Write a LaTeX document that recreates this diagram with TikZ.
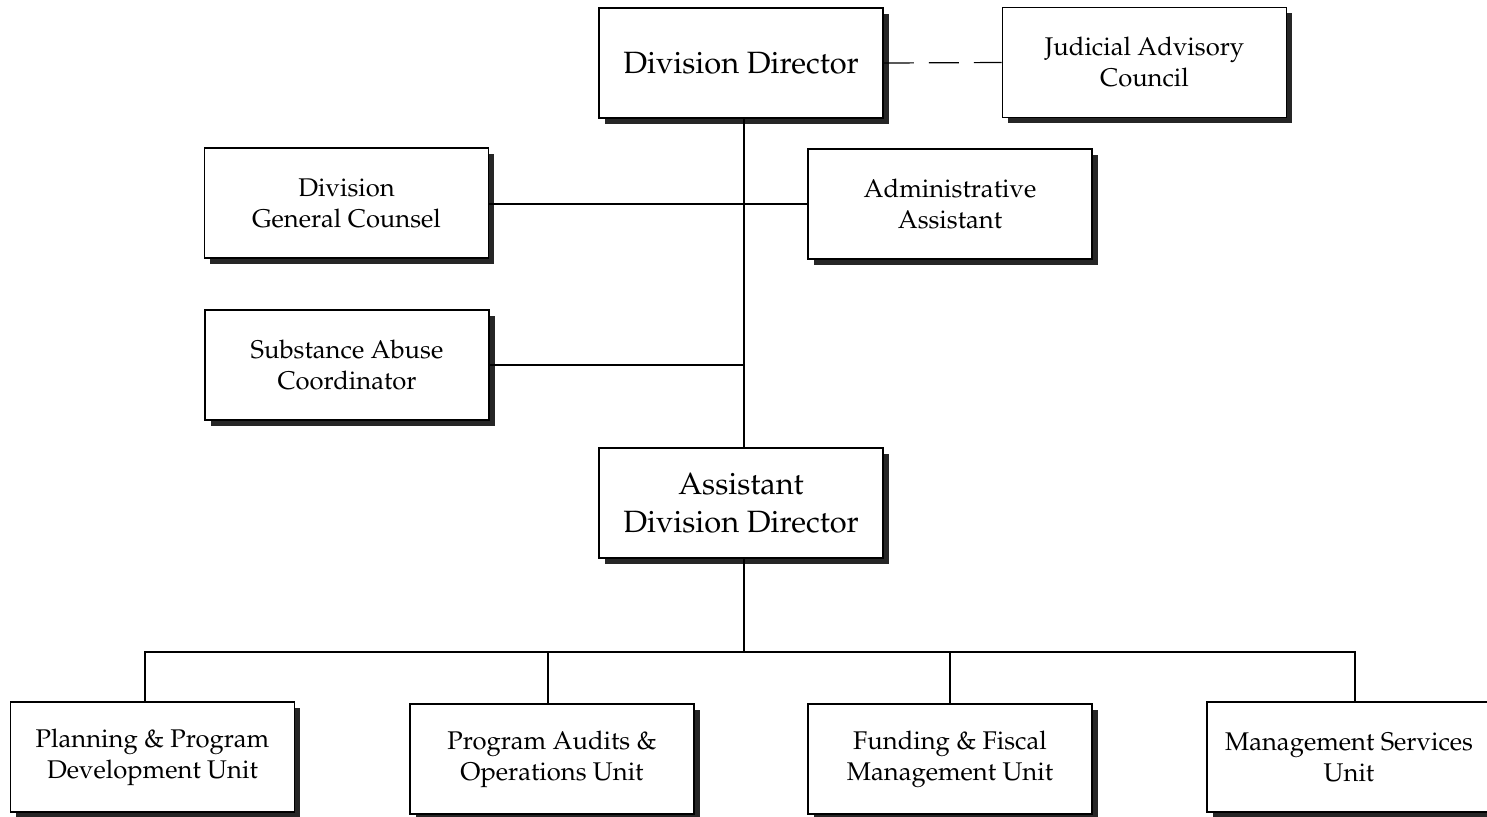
\documentclass[tikz,border=0pt]{standalone}
\usepackage[T1]{fontenc}
\usepackage{mathpazo}
\usetikzlibrary{shadows}

\tikzset{
  unitbox/.style={draw, line width=0.9pt, fill=white, align=center, inner sep=0pt,
    minimum width=142pt, minimum height=55pt,
    font=\fontsize{12.8}{15.5}\selectfont,
    drop shadow={shadow xshift=2.8pt, shadow yshift=-2.8pt, opacity=1, fill=black!85}},
  bigbox/.style={unitbox, font=\fontsize{15.4}{19}\selectfont},
  link/.style={line width=0.6pt},
}

\begin{document}
\begin{tikzpicture}[x=0.5pt, y=-0.5pt]

	\useasboundingbox (0,0) rectangle (1487,816);

	%%%%%%%%%%%%%%%%%%%%%%%%%%%%
	% Leitung oben
	%%%%%%%%%%%%%%%%%%%%%%%%%%%%

	\node [bigbox] (dd) at (741,63) {Division Director};
	\node [unitbox] (jac) at (1144.5,62.5) {Judicial Advisory\\Council};
	\node [unitbox] (dgc) at (346.5,203) {Division\\General Counsel};
	\node [unitbox] (aa) at (950,204) {Administrative\\Assistant};
	\node [unitbox] (sac) at (347,365) {Substance Abuse\\Coordinator};
	\node [bigbox] (add) at (741,503) {Assistant\\Division Director};

	%%%%%%%%%%%%%%%%%%%%%%%%%%%%
	% Einheiten unten
	%%%%%%%%%%%%%%%%%%%%%%%%%%%%

	\node [unitbox] (ppd) at (152.5,757) {Planning \& Program\\Development Unit};
	\node [unitbox] (pao) at (552,759) {Program Audits \&\\Operations Unit};
	\node [unitbox] (ffm) at (950,759) {Funding \& Fiscal\\Management Unit};
	\node [unitbox] (msu) at (1349,757) {Management Services\\Unit};

	% Hilfskoordinaten
	\coordinate (bus) at (744,652);
	\coordinate (d1) at (145,652);
	\coordinate (d2) at (548,652);
	\coordinate (d3) at (950,652);
	\coordinate (d4) at (1355,652);

	\draw [link, dash pattern=on 15pt off 7.5pt] (dd.east) -- (jac.west);
	\draw [link] (dd.south -| bus) -- (add.north -| bus);
	\draw [link] (aa.west) -- (aa.west -| dgc.east);
	\draw [link] (sac.east) -- (sac.east -| bus);
	\draw [link] (add.south -| bus) -- (bus);
	\draw [link] (ppd.north -| d1) -- (d1) -- (d4) -- (msu.north -| d4);
	\draw [link] (pao.north -| d2) -- (d2);
	\draw [link] (ffm.north -| d3) -- (d3);

\end{tikzpicture}
\end{document}
